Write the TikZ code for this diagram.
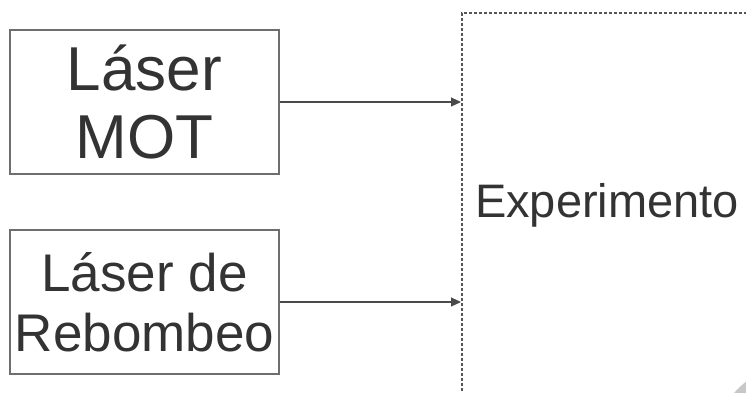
\documentclass[tikz,border=0pt]{standalone}
\usepackage{fontspec}
\setmainfont{Liberation Sans}
\usetikzlibrary{arrows.meta}
\definecolor{txt}{HTML}{333333}
\definecolor{frame}{HTML}{6E6E6E}
\definecolor{dashc}{HTML}{555555}
\definecolor{wire}{HTML}{4A4A4A}
\tikzset{
  laserbox/.style={draw=frame, line width=1.3pt, rectangle, minimum width=269pt,
    minimum height=144pt, inner sep=0pt, align=center, text=txt},
  feed/.style={draw=wire, line width=1.1pt, -{Triangle[length=10pt,width=9pt]}},
  exprbox/.style={draw=dashc, line width=1.7pt, dash pattern=on 3pt off 2pt,
    rectangle, inner sep=0pt, anchor=north west, minimum width=400pt, minimum height=450pt}
}
\begin{document}
\begin{tikzpicture}[x=1pt,y=-1pt]
\useasboundingbox (0,0) rectangle (746,392);
\clip (0,0) rectangle (746,392);
\fill[white] (0,0) rectangle (746,392);
% experiment area (runs past the right and bottom edges)
\node[exprbox] (exp) at (461,12) {};
\node[text=txt, font=\fontsize{47}{50}\selectfont, anchor=base] (explabel) at (607,217) {Experimento};
% laser sources
\node[laserbox, font=\fontsize{62}{68}\selectfont] (mot) at (144.5,102) {Láser\\MOT};
\node[laserbox, font=\fontsize{53}{60}\selectfont] (rep) at (144.5,302) {Láser de\\Rebombeo};
% beams into the experiment
\draw[feed] (mot.east) -- (mot.east -| exp.west);
\draw[feed] (rep.east) -- (rep.east -| exp.west);
% corner shading
\fill[black!22] (790,440) circle (73);
\end{tikzpicture}
\end{document}
